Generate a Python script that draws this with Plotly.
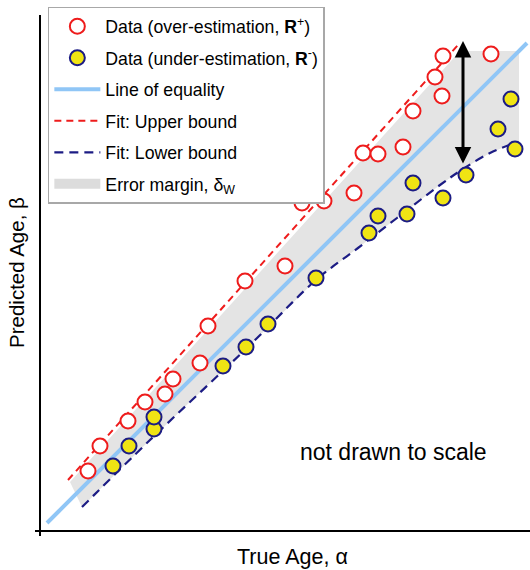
import plotly.graph_objects as go

# ---- data (arbitrary age units) ----
over_x = [4.8, 6.0, 8.8, 10.5, 12.5, 13.3, 16.0, 16.8, 20.5, 24.5, 26.2, 28.4, 31.4, 32.3, 33.8, 36.3, 37.3, 40.2, 39.5, 40.3, 45.1]
over_y = [5.9, 8.4, 10.9, 12.8, 13.6, 15.1, 16.7, 20.4, 24.9, 26.4, 32.7, 32.9, 33.7, 37.7, 37.6, 38.3, 41.9, 43.4, 45.3, 47.4, 47.6]

under_x = [7.3, 8.9, 11.4, 11.4, 18.3, 20.6, 22.8, 27.6, 32.9, 33.8, 36.7, 37.3, 40.3, 42.6, 45.8, 47.1, 47.5]
under_y = [6.4, 8.4, 10.1, 11.3, 16.4, 18.3, 20.6, 25.2, 29.7, 31.4, 31.6, 34.7, 33.2, 35.5, 40.1, 43.1, 38.1]

equal_x = [0.7, 48.7]
equal_y = [0.7, 48.7]

upper_x = [2.8, 41.8]
upper_y = [5.0, 48.5]

lower_x = [4.2, 11.0, 21.0, 27.6, 31.8, 35.7, 40.0, 42.3, 45.0, 47.7]
lower_y = [2.3, 9.0, 18.5, 25.0, 28.2, 31.2, 34.5, 36.1, 37.7, 38.8]

band_top_x = [3.0, 42.0, 47.9]
band_top_y = [4.8, 47.9, 47.9]

arrow_x = 42.3
arrow_top = 48.9
arrow_bottom = 36.5

FONT = "Liberation Sans, Arial, sans-serif"
RED = "#ee1c1c"
NAVY = "#1c1c84"
YELLOW = "#f0e414"
BLUE = "#90c6f6"
BAND = "#e4e4e4"

band_x = band_top_x + [47.9] + lower_x[::-1]
band_y = band_top_y + [38.8] + lower_y[::-1]

fig = go.Figure()

fig.add_trace(go.Scatter(
    x=band_x, y=band_y, mode="lines", fill="toself",
    fillcolor=BAND, line=dict(color="rgba(0,0,0,0)", width=0),
    showlegend=False, hoverinfo="skip"))

# legend entry for the band
fig.add_trace(go.Scatter(
    x=[None], y=[None], mode="lines",
    line=dict(color="#dcdcdc", width=16),
    name="Error margin, δ<sub>W</sub>", legendrank=6, legendgroup="g6"))

fig.add_trace(go.Scatter(
    x=equal_x, y=equal_y, mode="lines",
    line=dict(color=BLUE, width=4),
    name="Line of equality", legendrank=3, legendgroup="g3"))

fig.add_trace(go.Scatter(
    x=upper_x, y=upper_y, mode="lines",
    line=dict(color=RED, width=2, dash="7px,5px"),
    name="Fit: Upper bound", legendrank=4, legendgroup="g4"))

fig.add_trace(go.Scatter(
    x=lower_x, y=lower_y, mode="lines", line_shape="spline",
    line=dict(color=NAVY, width=2.2, dash="9px,6px"),
    name="Fit: Lower bound", legendrank=5, legendgroup="g5"))

fig.add_trace(go.Scatter(
    x=over_x, y=over_y, mode="markers",
    marker=dict(symbol="circle", size=15, color="white",
                line=dict(color=RED, width=2)),
    name="Data (over-estimation, <b>R</b><sup>+</sup>)", legendrank=1, legendgroup="g1"))

fig.add_trace(go.Scatter(
    x=under_x, y=under_y, mode="markers",
    marker=dict(symbol="circle", size=15, color=YELLOW,
                line=dict(color=NAVY, width=2)),
    name="Data (under-estimation, <b>R</b><sup>-</sup>)", legendrank=2, legendgroup="g2"))

fig.add_annotation(
    x=arrow_x, y=arrow_top, ax=arrow_x, ay=arrow_bottom,
    xref="x", yref="y", axref="x", ayref="y",
    showarrow=True, arrowhead=2, startarrowhead=2, arrowside="end+start",
    arrowwidth=3, arrowsize=1.1, startarrowsize=1.1, arrowcolor="black", text="")

fig.add_annotation(
    x=35.3, y=7.8, xref="x", yref="y", text="not drawn to scale",
    showarrow=False, font=dict(family=FONT, size=23, color="black"))

fig.add_annotation(
    x=0.516, y=-0.052, xref="paper", yref="paper", text="True Age, α",
    showarrow=False, font=dict(family=FONT, size=21.5, color="black"),
    xanchor="center", yanchor="middle")

fig.add_annotation(
    x=-0.048, y=0.5, xref="paper", yref="paper", text="Predicted Age, β",
    showarrow=False, textangle=-90, font=dict(family=FONT, size=20.5, color="black"),
    xanchor="center", yanchor="middle")

# axis lines
fig.add_shape(type="line", xref="paper", yref="paper", x0=-0.0102, x1=1, y0=-0.002, y1=-0.002,
              line=dict(color="black", width=2))
fig.add_shape(type="line", xref="paper", yref="paper", x0=0, x1=0, y0=-0.0117, y1=1,
              line=dict(color="black", width=2))

fig.update_layout(
    width=530, height=570,
    margin=dict(l=40, r=0, t=15, b=40),
    paper_bgcolor="white", plot_bgcolor="white",
    font=dict(family=FONT, size=17.7, color="black"),
    xaxis=dict(range=[0, 49], visible=False),
    yaxis=dict(range=[0, 51.5], visible=False),
    showlegend=True,
    legend=dict(x=0.016, y=1.016, xanchor="left", yanchor="top",
                bgcolor="white", bordercolor="#a8a8a8", borderwidth=1.5,
                font=dict(family=FONT, size=17.7), tracegroupgap=5.5,
                itemwidth=46, traceorder="grouped"),
)

fig.write_html("out.html", config={"displayModeBar": False},
               post_script="document.body.style.margin='0';")
